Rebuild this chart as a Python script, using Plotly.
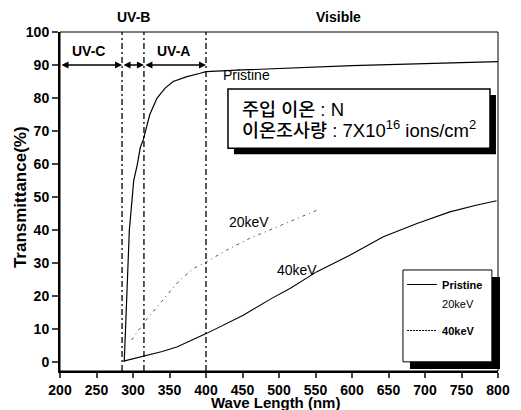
import plotly.graph_objects as go

# ---- data ----
pristine_wl = [288, 290, 292, 293, 295, 299, 301, 306, 310, 314, 317, 323, 333, 344, 355, 374, 392, 400, 450, 500, 600, 700, 800]
pristine_T = [0, 10, 25, 30, 40, 50, 55, 60, 65, 67.3, 70, 75, 80, 83, 85, 86.5, 87.5, 88, 88.5, 89, 89.8, 90.4, 91]

kev20_wl = [298, 310, 316, 337, 364, 383, 401, 428, 460, 552]
kev20_T = [6.7, 10.2, 12.2, 17.8, 24.8, 28.4, 30.4, 33.9, 37.5, 46]

kev40_wl = [287, 300, 318, 340, 360, 401, 451, 490, 515, 552, 597, 643, 689, 734, 770, 798]
kev40_T = [0.3, 1.0, 2.0, 3.2, 4.6, 8.7, 14.2, 19.3, 22.3, 27.4, 32.4, 38, 42, 45.5, 47.5, 48.9]

band_edges = [200, 285, 315, 400]
band_names = ["UV-C", "UV-B", "UV-A"]
x_ticks = list(range(200, 801, 50))
y_ticks = list(range(0, 101, 10))

FONT = "Liberation Sans, Arial, Noto Sans CJK KR, sans-serif"
KFONT = "Liberation Sans, Arial, Noto Sans CJK KR, sans-serif"

fig = go.Figure()

# curves (no legend)
fig.add_trace(go.Scatter(x=pristine_wl, y=pristine_T, mode="lines",
                         line=dict(color="black", width=1.2), showlegend=False))
fig.add_trace(go.Scatter(x=kev20_wl, y=kev20_T, mode="lines",
                         line=dict(color="#555", width=1, dash="3px,4px,1px,4px"), showlegend=False))
fig.add_trace(go.Scatter(x=kev40_wl, y=kev40_T, mode="lines",
                         line=dict(color="black", width=1.1), showlegend=False))

# legend entries (as in the original legend box)
fig.add_trace(go.Scatter(x=[None], y=[None], mode="lines", name="<b>Pristine</b>",
                         line=dict(color="black", width=1), legendgroup="a"))
fig.add_trace(go.Scatter(x=[None], y=[None], mode="lines", name="20keV",
                         line=dict(color="rgba(0,0,0,0)", width=1), legendgroup="a"))
fig.add_trace(go.Scatter(x=[None], y=[None], mode="lines", name="<b>40keV</b>",
                         line=dict(color="black", width=1, dash="2px,1px"), legendgroup="b"))

shapes = []
# band separators
for xe in band_edges[1:]:
    shapes.append(dict(type="line", xref="x", yref="paper", x0=xe, x1=xe, y0=0, y1=1,
                       line=dict(color="black", width=1.3, dash="6px,3px,2px,3px")))
# frame (thin top/right)
shapes.append(dict(type="rect", xref="paper", yref="paper", x0=0, x1=1, y0=0, y1=1,
                   line=dict(color="black", width=1)))
# info box shadow + box
shapes.append(dict(type="rect", xref="x", yref="y", x0=438.3, x1=797.2, y0=63.0, y1=80.9,
                   fillcolor="black", line=dict(width=0), layer="above"))
shapes.append(dict(type="rect", xref="x", yref="y", x0=430.1, x1=789, y0=64.8, y1=82.7,
                   fillcolor="white", line=dict(color="black", width=1.5), layer="above"))
# legend box shadow + box
shapes.append(dict(type="rect", xref="paper", yref="paper", x0=0.799, x1=1.0046, y0=0.006, y1=0.277,
                   fillcolor="black", line=dict(width=0), layer="above"))
shapes.append(dict(type="rect", xref="paper", yref="paper", x0=0.783, x1=0.986, y0=0.027, y1=0.298,
                   fillcolor="white", line=dict(color="black", width=1), layer="above"))

annotations = []
# arrows for bands
for i in range(3):
    annotations.append(dict(x=band_edges[i + 1], y=90, ax=band_edges[i], ay=90, xref="x", yref="y",
                            axref="x", ayref="y", text="", showarrow=True, arrowhead=2,
                            arrowside="end+start", arrowsize=1, arrowwidth=1.4, arrowcolor="black",
                            standoff=0, startstandoff=0))
# band labels
def lab(x, y, text, size=14, xref="x", yref="y", **kw):
    d = dict(x=x, y=y, xref=xref, yref=yref, text=text, showarrow=False,
             xanchor=kw.pop("xanchor", "center"), yanchor="middle",
             font=dict(family=kw.pop("family", FONT), size=size, color="black",
                       weight=kw.pop("weight", "normal")))
    d.update(kw)
    annotations.append(d)

lab(239, 94.2, "<b>UV-C</b>")
lab(355.5, 94.2, "<b>UV-A</b>")
lab(300, 1.0442, "<b>UV-B</b>", yref="paper")
lab(581, 1.0442, "<b>Visible</b>", yref="paper")
# curve labels
lab(456, 87.0, "Pristine")
lab(459, 42.4, "20keV")
lab(525, 27.9, "40keV")
# info box text
lab(447, 76.6, "주입 이온 : N", size=18.5, xanchor="left", family=KFONT, weight=500)
lab(447, 70.6, "이온조사량 : 7X10<sup>16</sup> ions/cm<sup>2</sup>", size=18.5, xanchor="left",
    family=KFONT, weight=500)
# axis titles
lab(-0.0913, 0.513, "<b>Transmittance(%)</b>", size=17, xref="paper", yref="paper", textangle=-90)
lab(0.493, -0.0925, "<b>Wave Length (nm)</b>", size=15, xref="paper", yref="paper")

# The page body adds an 8px margin, so the figure is sized/offset to fill the 521x410 view
fig.update_layout(
    width=513, height=402,
    margin=dict(l=52, r=23, t=24, b=39, autoexpand=False),
    paper_bgcolor="white", plot_bgcolor="white",
    font=dict(family=FONT, color="black"),
    shapes=shapes, annotations=annotations,
    showlegend=True,
    legend=dict(x=0.781, y=0.298, xanchor="left", yanchor="top", bgcolor="rgba(0,0,0,0)",
                borderwidth=0, font=dict(family=FONT, size=11, color="black"),
                tracegroupgap=8, itemwidth=30),
    xaxis=dict(range=[200, 800], tickvals=x_ticks, ticks="outside", ticklen=5, tickwidth=1.5,
               showline=True, linewidth=2, linecolor="black", showgrid=False, zeroline=False,
               automargin=False,
               tickfont=dict(family=FONT, size=14, color="black", weight="bold")),
    yaxis=dict(range=[-2.7, 100], tickvals=y_ticks, ticks="outside", ticklen=6, tickwidth=1.5,
               showline=True, linewidth=2, linecolor="black", showgrid=False, zeroline=False,
               automargin=False,
               tickfont=dict(family=FONT, size=14, color="black", weight="bold")),
)

fig.write_html("out.html")
